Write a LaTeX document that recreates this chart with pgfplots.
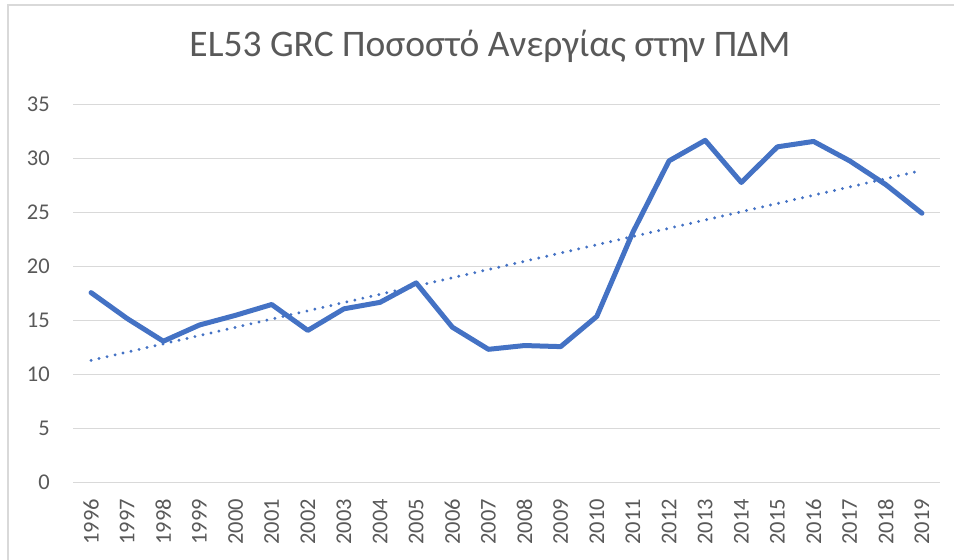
\documentclass[border=0pt]{standalone}
\usepackage{pgfplots}
\usepackage{pgfplotstable}
\pgfplotsset{compat=1.18}
\usepackage{fontspec}
\setmainfont{Carlito}
\definecolor{lineblue}{HTML}{4472C4}
\definecolor{gridgray}{HTML}{D9D9D9}
\definecolor{textgray}{HTML}{595959}
\pgfplotstableread{
x y
0 17.6
1 15.2
2 13.1
3 14.6
4 15.5
5 16.5
6 14.1
7 16.1
8 16.7
9 18.5
10 14.4
11 12.35
12 12.7
13 12.6
14 15.4
15 23.2
16 29.8
17 31.7
18 27.8
19 31.1
20 31.6
21 29.8
22 27.6
23 24.95
}\data
\begin{document}
\begin{tikzpicture}[x=1pt,y=1pt]
\useasboundingbox (0,0) rectangle (954,560);
\draw[gridgray, line width=1.5pt] (8,0) -- (8,555) -- (954,555);
\node[anchor=base, font=\fontsize{37.5}{45}\selectfont, text=textgray] at (490,503) {EL53 GRC Ποσοστό Ανεργίας στην ΠΔΜ};
\begin{axis}[
  at={(73pt,77.3pt)}, anchor=south west,
  scale only axis, width=867pt, height=378pt,
  xmin=-0.5, xmax=23.5, ymin=0, ymax=35,
  xtick={0,...,23},
  xticklabels={1996,1997,1998,1999,2000,2001,2002,2003,2004,2005,2006,2007,2008,2009,2010,2011,2012,2013,2014,2015,2016,2017,2018,2019},
  ytick={0,5,...,35},
  axis line style={draw=none},
  major tick length=0pt,
  ymajorgrids, grid style={gridgray, line width=1.5pt},
  tick label style={font=\fontsize{22.5}{27}\selectfont, text=textgray, inner sep=0pt},
  /pgf/number format/assume math mode=true,
  xticklabel style={rotate=90, anchor=east},
  yticklabel style={anchor=east},
  xticklabel shift=16pt,
  yticklabel shift=23pt,
  clip=false,
]
\addplot[lineblue, line width=5pt, line join=round, line cap=round] table[x=x, y=y] {\data};
\addplot[lineblue, line width=3.2pt, line cap=round, dash pattern=on 0pt off 8.2pt] table[x=x, y={create col/linear regression={x=x,y=y}}] {\data};
\end{axis}
\end{tikzpicture}
\end{document}
